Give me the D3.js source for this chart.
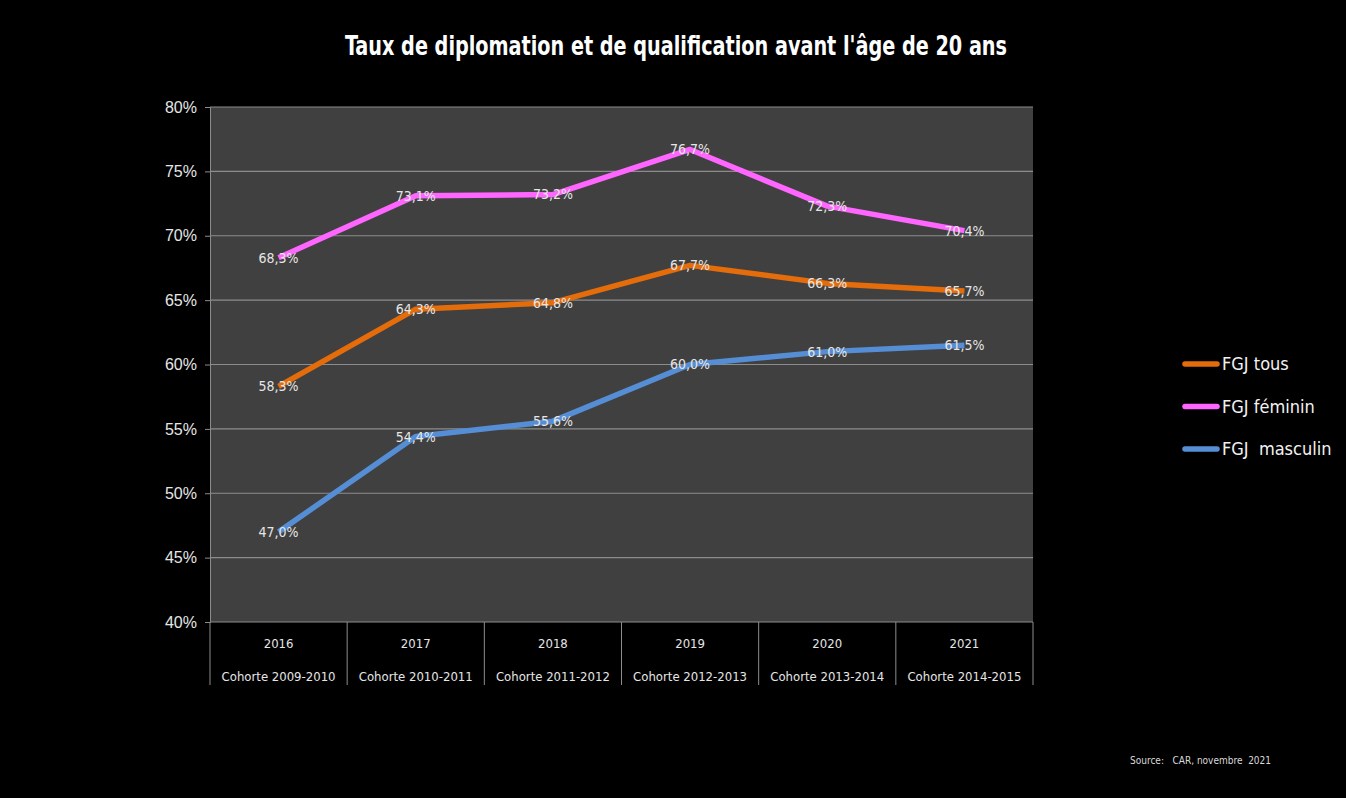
<!DOCTYPE html>
<html>
<head>
<meta charset="utf-8">
<script src="https://cdn.jsdelivr.net/npm/d3@7"></script>
<style>
  body { margin: 0; background: #000; }
  svg { display: block; font-family: "Liberation Sans Narrow", "DejaVu Sans Condensed", sans-serif; }
</style>
</head>
<body>
<svg id="chart" width="1346" height="798"></svg>
<script>
'use strict';

const years = ['2016', '2017', '2018', '2019', '2020', '2021'];
const cohorts = ['Cohorte 2009-2010', 'Cohorte 2010-2011', 'Cohorte 2011-2012',
  'Cohorte 2012-2013', 'Cohorte 2013-2014', 'Cohorte 2014-2015'];
const tous = [58.3, 64.3, 64.8, 67.7, 66.3, 65.7];
const feminin = [68.3, 73.1, 73.2, 76.7, 72.3, 70.4];
const masculin = [47.0, 54.4, 55.6, 60.0, 61.0, 61.5];
const yTicks = [40, 45, 50, 55, 60, 65, 70, 75, 80];

const series = [
  { name: 'FGJ tous', values: tous, color: '#E46C0A' },
  { name: 'FGJ féminin', values: feminin, color: '#FF66FF' },
  { name: 'FGJ  masculin', values: masculin, color: '#558ED5' }
];

const svg = d3.select('#chart');
const margin = { top: 107, left: 210, right: 1033, bottom: 622 };

const x = d3.scaleBand()
  .domain(years)
  .range([margin.left, margin.right]);

const y = d3.scaleLinear()
  .domain([40, 80])
  .range([margin.bottom, margin.top]);

const fmt = v => v.toFixed(1).replace('.', ',') + '%';

// Title (squeezed to match the narrow original face)
svg.append('text')
  .attr('x', 345)
  .attr('y', 55)
  .attr('fill', '#fff')
  .attr('font-size', 26)
  .attr('font-weight', 'bold')
  .attr('textLength', 662)
  .attr('lengthAdjust', 'spacingAndGlyphs')
  .text("Taux de diplomation et de qualification avant l'âge de 20 ans");

// Plot background
svg.append('rect')
  .attr('x', margin.left)
  .attr('y', margin.top)
  .attr('width', margin.right - margin.left)
  .attr('height', margin.bottom - margin.top)
  .attr('fill', '#404040');

// Y axis
const yAxis = svg.append('g')
  .attr('transform', `translate(${margin.left},0)`)
  .call(d3.axisLeft(y).tickValues(yTicks).tickSize(5).tickFormat(d => d + '%'));
yAxis.select('.domain').attr('stroke', '#8c8c8c');
yAxis.selectAll('.tick line').attr('stroke', '#8c8c8c');
yAxis.selectAll('.tick text')
  .attr('fill', '#e6e6e6')
  .attr('font-size', 16)
  .attr('font-family', 'inherit')
  .attr('x', -13);

// Gridlines
svg.append('g')
  .selectAll('line')
  .data(yTicks.slice(1))
  .join('line')
  .attr('x1', margin.left)
  .attr('x2', margin.right)
  .attr('y1', d => y(d))
  .attr('y2', d => y(d))
  .attr('stroke', '#8c8c8c')
  .attr('stroke-width', 1.2);

// X axis with two-level labels
svg.append('line')
  .attr('x1', margin.left)
  .attr('x2', margin.right)
  .attr('y1', margin.bottom)
  .attr('y2', margin.bottom)
  .attr('stroke', '#8c8c8c')
  .attr('stroke-width', 1.2);

const seps = years.map(d => x(d)).concat([x(years[years.length - 1]) + x.bandwidth()]);
svg.append('g')
  .selectAll('line')
  .data(seps)
  .join('line')
  .attr('x1', d => d)
  .attr('x2', d => d)
  .attr('y1', margin.bottom)
  .attr('y2', 685)
  .attr('stroke', '#8c8c8c');

const xl = svg.append('g')
  .attr('fill', '#e6e6e6')
  .attr('font-size', 13)
  .attr('text-anchor', 'middle');
xl.selectAll('text.year')
  .data(years)
  .join('text')
  .attr('class', 'year')
  .attr('x', d => x(d) + x.bandwidth() / 2)
  .attr('y', 648)
  .text(d => d);
xl.selectAll('text.cohort')
  .data(cohorts)
  .join('text')
  .attr('class', 'cohort')
  .attr('x', (d, i) => x(years[i]) + x.bandwidth() / 2)
  .attr('y', 681)
  .text(d => d);

// Lines
const line = d3.line()
  .x((d, i) => x(years[i]) + x.bandwidth() / 2)
  .y(d => y(d));

svg.append('g')
  .selectAll('path')
  .data(series)
  .join('path')
  .attr('d', d => line(d.values))
  .attr('fill', 'none')
  .attr('stroke', d => d.color)
  .attr('stroke-width', 5.5)
  .attr('stroke-linejoin', 'round');

// Data labels
series.forEach(s => {
  svg.append('g')
    .selectAll('text')
    .data(s.values)
    .join('text')
    .attr('x', (d, i) => x(years[i]) + x.bandwidth() / 2)
    .attr('y', d => y(d))
    .attr('dy', '0.35em')
    .attr('text-anchor', 'middle')
    .attr('fill', '#e6e6e6')
    .attr('font-size', 14)
    .text(d => fmt(d));
});

// Legend
const legend = svg.append('g')
  .selectAll('g')
  .data(series)
  .join('g')
  .attr('transform', (d, i) => `translate(1185,${364 + i * 42.5})`);
legend.append('line')
  .attr('x1', 0)
  .attr('x2', 32)
  .attr('stroke', d => d.color)
  .attr('stroke-width', 5.5)
  .attr('stroke-linecap', 'round');
legend.append('text')
  .attr('x', 37)
  .attr('dy', '0.35em')
  .attr('fill', '#f2f2f2')
  .attr('font-size', 18)
  .style('white-space', 'pre')
  .text(d => d.name);

// Source
svg.append('text')
  .attr('x', 1130)
  .attr('y', 764)
  .attr('fill', '#d9d9d9')
  .attr('font-size', 10)
  .style('white-space', 'pre')
  .text('Source:   CAR, novembre  2021');
</script>
</body>
</html>
